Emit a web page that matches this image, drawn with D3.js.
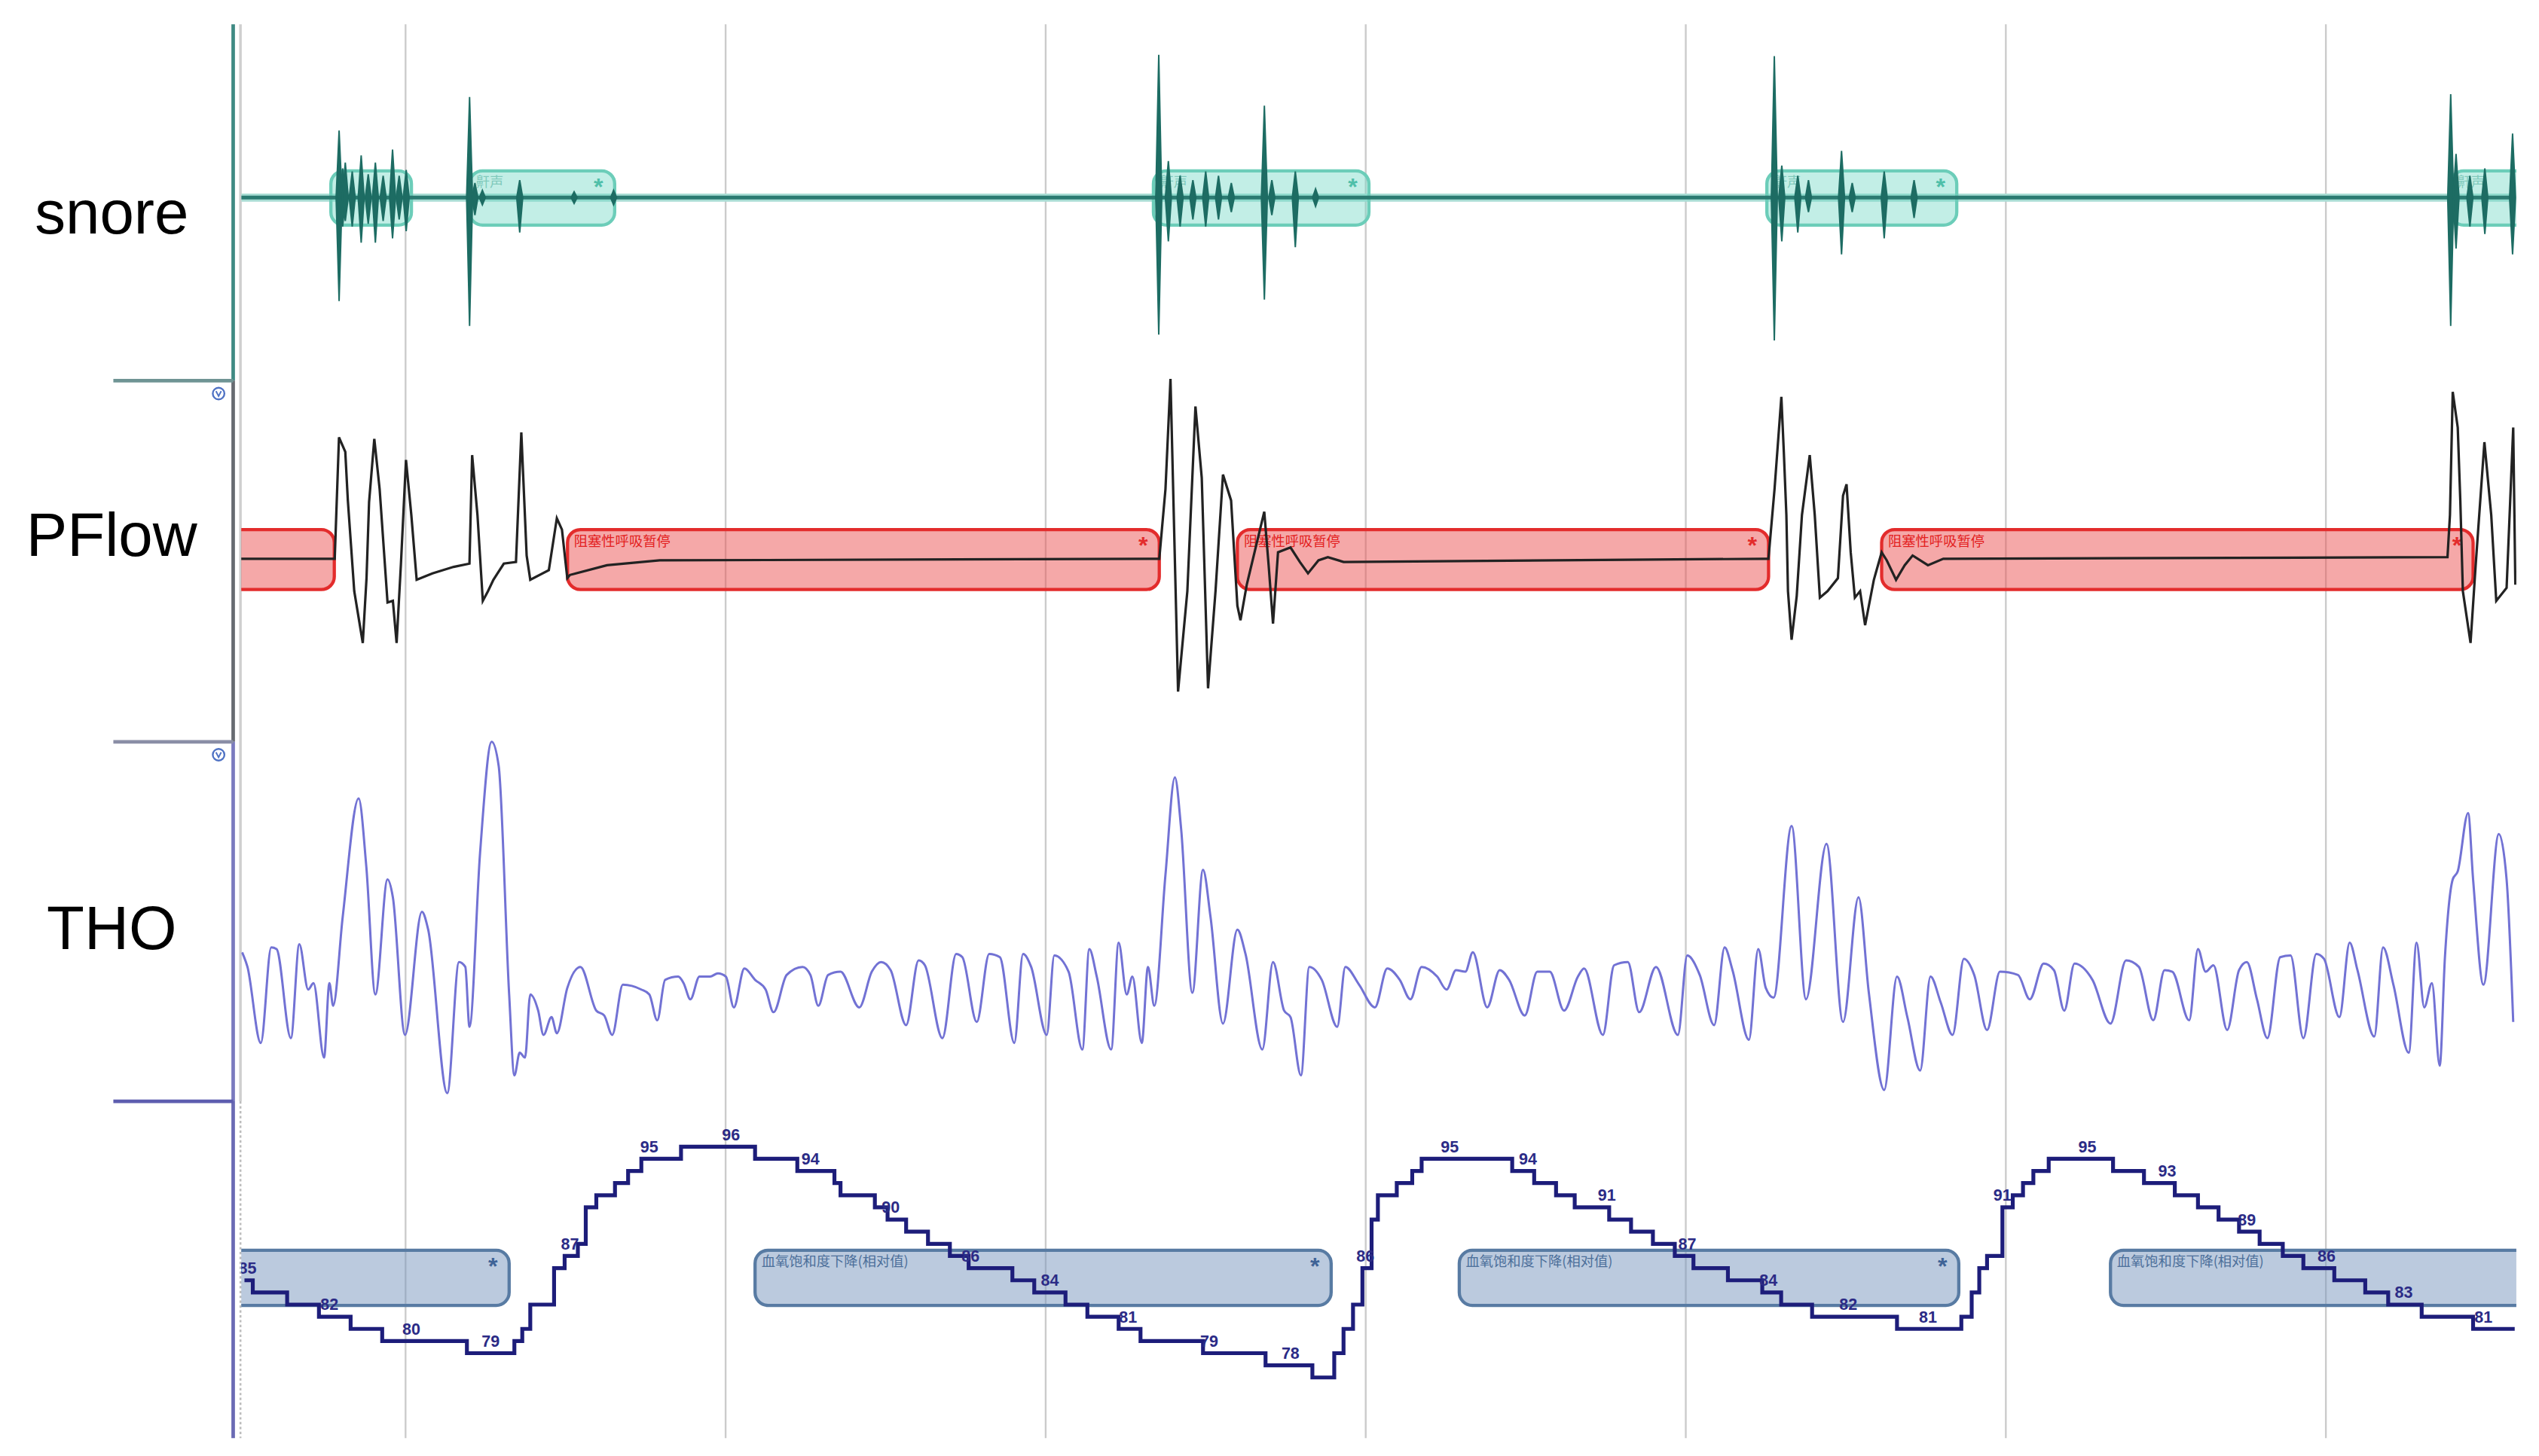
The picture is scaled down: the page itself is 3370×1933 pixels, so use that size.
<!DOCTYPE html>
<meta charset="utf-8">
<title>snore / PFlow / THO / SpO2</title>
<style>
  body { margin: 0; background: #fff; }
  svg { display: block; }
  text { font-family: "Liberation Sans", Arial, sans-serif; }
</style>
<body>
<div id="chart"></div>
<script src="https://cdn.jsdelivr.net/npm/d3@7"></script>
<script>

// time is in seconds from the start of the window, grid every 30 s
var channelNames = ["snore", "PFlow", "THO"];
var gridTimes = [30, 60, 90, 120, 150, 180, 210];

// snore bursts: [time, upper amplitude, lower amplitude]
var snoreSpikes = [
  [23.77,0.46,-0.71],[24.1,0.2,-0.2],[24.35,0.24,-0.16],[25.0,0.18,-0.2],[25.84,0.29,-0.31],[26.5,0.16,-0.18],
  [27.17,0.24,-0.31],[27.9,0.15,-0.16],[28.78,0.33,-0.28],[29.4,0.15,-0.15],[30.06,0.19,-0.23],
  [36.0,0.69,-0.88],[36.5,0.1,-0.12],[37.2,0.05,-0.05],[40.7,0.12,-0.24],[45.8,0.04,-0.04],[49.5,0.05,-0.05],
  [100.6,0.98,-0.94],[101.5,0.25,-0.3],[102.6,0.15,-0.2],[103.8,0.12,-0.15],[105.0,0.18,-0.2],[106.2,0.15,-0.15],
  [107.4,0.1,-0.1],[110.5,0.63,-0.7],[111.2,0.12,-0.12],[113.4,0.18,-0.34],[115.3,0.06,-0.06],
  [158.3,0.97,-0.98],[159.0,0.22,-0.3],[160.5,0.15,-0.24],[161.5,0.12,-0.1],[164.6,0.32,-0.39],[165.6,0.1,-0.1],
  [168.6,0.18,-0.28],[171.4,0.12,-0.14],
  [221.7,0.71,-0.88],[222.2,0.3,-0.35],[223.5,0.15,-0.2],[224.9,0.2,-0.25],[227.5,0.44,-0.39]
];
// events: [start, end, starred, labelled]
var snoreEvents = [[23.0,30.55,0,0],[36.0,49.6,1,1],[100.1,120.3,1,1],[157.6,175.4,1,1],[221.7,232,0,1]];
var snoreText = "鼾声";

var pflowTrace = [
  [10,0],[23.36,0],[23.76,0.75],[24.35,0.66],[24.59,0.36],[25.19,-0.2],[25.99,-0.52],[26.34,-0.12],[26.58,0.35],
  [27.07,0.74],[27.57,0.43],[28.31,-0.27],[28.81,-0.26],[29.16,-0.52],[29.56,-0.04],[30.04,0.61],[30.54,0.27],
  [31.04,-0.13],[32.52,-0.09],[34.51,-0.05],[35.99,-0.03],[36.24,0.64],[36.74,0.27],[37.24,-0.26],[37.73,-0.2],
  [38.23,-0.13],[39.21,-0.03],[40.35,-0.02],[40.85,0.78],[41.35,0.02],[41.69,-0.13],[43.43,-0.07],[44.18,0.25],
  [44.66,0.18],[45.16,-0.12],[45.41,-0.1],[48.88,-0.04],[53.83,-0.01],[100.0,0],
  [100.65,0],[101.23,0.43],[101.7,1.11],[102.41,-0.82],[103.28,-0.2],[104.04,0.94],[104.63,0.5],[105.22,-0.8],
  [105.92,-0.2],[106.62,0.52],[107.38,0.36],[107.97,-0.29],[108.26,-0.38],[108.85,-0.16],[110.49,0.29],[110.9,-0.04],
  [111.31,-0.4],[111.78,0.04],[112.95,0.07],[113.83,-0.02],[114.59,-0.09],[115.57,-0.01],[116.45,0.01],[117.93,-0.02],
  [157.4,0],
  [157.75,0],[158.32,0.43],[158.96,1.0],[159.19,0.66],[159.43,0.27],[159.58,-0.2],[159.92,-0.5],[160.4,-0.23],
  [160.89,0.27],[161.62,0.64],[162.09,0.27],[162.57,-0.24],[163.29,-0.2],[164.26,-0.12],[164.74,0.39],[165.07,0.46],
  [165.46,0.04],[165.85,-0.24],[166.34,-0.2],[166.81,-0.41],[167.63,-0.13],[168.36,0.04],[168.84,-0.01],[169.71,-0.13],
  [170.52,-0.04],[171.26,0.02],[172.7,-0.04],[174.14,0],
  [221.4,0.01],[221.63,0.27],[221.89,1.03],[222.36,0.81],[222.6,0.36],[222.84,-0.2],[223.56,-0.52],[224.04,-0.04],
  [224.86,0.72],[225.5,0.27],[225.97,-0.26],[226.94,-0.18],[227.56,0.81],[227.76,-0.16]
];
var apneaEvents = [[10,23.32,0,0],[45.18,100.65,1,1],[107.97,157.76,1,1],[168.36,223.8,1,1]];
var apneaText = "阻塞性呼吸暂停";

var thoTrace = [
  [14.68,0.12],[15.18,0.03],[16.43,-0.44],[17.41,0.15],[17.91,0.14],[19.25,-0.41],[20.04,0.17],[20.87,-0.11],
  [21.37,-0.07],[22.36,-0.53],[22.86,-0.07],[23.21,-0.21],[24.11,0.34],[25.6,1.07],[26.32,0.65],[27.17,-0.14],
  [28.31,0.57],[28.81,0.46],[29.95,-0.39],[31.53,0.37],[32.12,0.26],[33.91,-0.75],[35.01,0.06],[35.6,0.03],
  [35.99,-0.34],[36.98,0.73],[38.07,1.42],[38.73,1.27],[39.71,-0.14],[40.2,-0.64],[40.7,-0.5],[41.2,-0.53],
  [41.69,-0.14],[42.43,-0.24],[42.93,-0.39],[43.68,-0.28],[44.18,-0.38],[45.16,-0.1],[46.39,0.03],[47.88,-0.24],
  [48.62,-0.27],[49.37,-0.39],[50.37,-0.08],[52.1,-0.11],[52.85,-0.14],[53.59,-0.3],[54.33,-0.05],[55.56,-0.03],
  [56.06,-0.07],[56.7,-0.17],[57.55,-0.03],[58.54,-0.03],[59.28,-0.01],[60.03,-0.03],[60.77,-0.22],[61.76,0.02],
  [62.76,-0.05],[63.75,-0.11],[64.49,-0.25],[65.72,-0.02],[67.21,0.03],[67.95,-0.02],[68.69,-0.21],
  [69.61,-0.02],[70.77,0],[72.53,-0.22],[73.7,0],[74.58,0.06],[75.47,0.01],[76.92,-0.33],[78.09,0.07],[78.68,0.04],
  [80.32,-0.41],[81.61,0.11],[82.19,0.09],[83.54,-0.31],[84.71,0.11],[85.71,0.09],[87.06,-0.44],[87.88,0.11],
  [88.64,0.03],[90.1,-0.39],[90.81,0.1],[92.15,0],[93.44,-0.48],[94.09,0.14],[94.79,-0.03],[96.14,-0.48],
  [96.84,0.18],[97.6,-0.14],[98.13,-0.03],[99.01,-0.44],[99.59,0.03],[100.18,-0.21],[101.23,0.6],[102.11,1.2],
  [102.7,0.88],[103.75,-0.13],[104.75,0.63],[105.45,0.34],[106.62,-0.32],[107.97,0.26],[108.73,0.11],[110.31,-0.48],
  [111.31,0.06],[112.35,-0.24],[112.95,-0.28],[113.93,-0.64],[114.71,0.03],[115.88,-0.05],[117.33,-0.34],[118.09,0.03],
  [119.38,-0.08],[120.86,-0.22],[122.02,0.02],[123.19,-0.05],[124.19,-0.17],[125.24,0.03],[126.7,-0.03],[127.58,-0.11],
  [128.46,0.01],[129.34,0],[130.04,0.12],[131.39,-0.22],[132.56,0.01],[133.44,-0.05],[134.91,-0.27],[136.08,0],
  [137.25,0],[138.59,-0.24],[139.89,-0.03],[140.47,0.02],[142.23,-0.39],[143.28,0.04],[144.57,0.06],[145.63,-0.25],
  [147.21,0.03],[149.26,-0.39],[150.14,0.1],[151.31,-0.02],[152.66,-0.33],[153.64,0.15],
  [154.38,0.01],[155.92,-0.42],[156.79,0.14],[157.5,-0.1],[158.23,-0.16],[159.92,0.9],[161.27,-0.17],[163.19,0.79],
  [164.74,-0.31],[166.19,0.46],[167.16,-0.13],[168.6,-0.73],[169.8,-0.03],[170.77,-0.28],[171.97,-0.61],[172.94,-0.03],
  [173.9,-0.19],[175.01,-0.39],[176.07,0.08],[177.04,-0.02],[178.24,-0.36],[179.45,0],[181.14,-0.02],[182.25,-0.17],
  [183.55,0.05],[184.51,0.01],[185.48,-0.24],[186.44,0.05],[188.12,-0.05],[189.81,-0.32],[191.27,0.07],[192.47,0.03],
  [193.82,-0.3],[194.88,0.01],[195.61,0],[197.19,-0.3],[198.01,0.14],[198.73,0],[199.46,0.04],[200.75,-0.36],
  [201.86,0.01],[202.59,0.06],[203.54,-0.17],[204.52,-0.41],[205.72,0.09],[206.69,0.1],[207.89,-0.41],[209.1,0.11],
  [209.82,0.08],[211.27,-0.28],[212.23,0.18],[212.96,0.01],[214.54,-0.4],[215.36,0.15],[216.33,-0.08],[217.77,-0.5],
  [218.5,0.18],[219.22,-0.22],[219.94,-0.07],[220.67,-0.58],[221.16,0.09],[221.89,0.57],[222.36,0.62],[223.33,0.98],
  [223.8,0.57],[224.77,-0.08],[226.21,0.85],[226.94,0.57],[227.56,-0.31]
];

// SpO2 (%) as steps: [time the value starts, value]
var spo2Steps = [
  [14.9,85],[15.68,84],[18.9,83],[21.88,82],[24.85,81],[27.81,80],[35.75,79],[40.2,80],[40.94,81],[41.69,83],
  [43.92,86],[44.91,87],[46.15,88],[46.89,91],[47.88,92],[49.63,93],[50.86,94],[52.1,95],[55.82,96],[62.76,95],
  [66.72,94],[70.2,93],[70.77,92],[73.99,91],[75.18,90],[76.92,89],[78.97,88],[81.02,87],[82.78,86],[86.88,85],
  [88.93,84],[91.86,83],[93.91,82],[96.84,81],[98.89,80],[104.75,79],[110.61,78],[115.0,77],[117.05,79],[117.92,81],
  [118.81,83],[119.69,86],[120.55,90],[121.14,92],[122.91,93],[124.36,94],[125.24,95],[133.73,94],[135.79,93],
  [137.84,92],[139.59,91],[142.82,90],[144.87,89],[146.92,88],[148.97,87],[150.72,86],[153.95,85],[157.17,84],
  [158.94,83],[161.84,82],[169.8,81],[175.83,82],[176.8,84],[177.51,86],[178.24,87],[179.68,91],[180.65,92],
  [181.61,93],[182.58,94],[184.02,95],[190.05,94],[192.95,93],[195.84,92],[198.01,91],[199.94,90],[201.86,89],
  [203.79,88],[205.96,87],[207.89,86],[210.79,85],[213.69,84],[215.84,83],[218.98,82],[223.8,81],[227.7,81]
];
var spo2Labels = [
  [15.18,85],[22.86,82],[30.54,80],[37.98,79],[45.41,87],[52.84,95],[60.51,96],[67.95,94],[75.47,90],[82.96,86],
  [90.4,84],[97.72,81],[105.33,79],[112.95,78],[119.97,86],[127.88,95],[135.2,94],[142.6,91],[150.14,87],[157.75,84],
  [165.23,82],[172.7,81],[179.68,91],[187.64,95],[195.12,93],[202.59,89],[210.06,86],[217.3,83],[224.77,81]
];
var desatEvents = [[10,39.71,1,0],[62.76,116.76,1,1],[128.77,175.59,1,1],[189.81,232,0,1]];
var desatText = "血氧饱和度下降(相对值)";

// ---- layout ----
var svg = d3.select("#chart")
  .append("svg")
    .attr("width", 3370)
    .attr("height", 1933)
    .attr("viewBox", "0 0 1568 899")
    .attr("preserveAspectRatio", "none");

var x = d3.scaleLinear().domain([14.6, 227.7]).range([149, 1553]);
var ySnore = d3.scaleLinear().domain([-1, 1]).range([212, 32]);
var yFlow = d3.scaleLinear().domain([-1, 1]).range([445, 245]);
var yTho = d3.scaleLinear().domain([-1, 1]).range([700, 500]);
var ySpo2 = d3.scaleLinear().domain([76, 96]).range([858, 708]);

svg.append("defs").append("clipPath")
    .attr("id", "plot")
  .append("rect")
    .attr("x", 149).attr("y", 0)
    .attr("width", 1405).attr("height", 899);

// grid
svg.selectAll("line.grid")
  .data(gridTimes)
  .enter()
  .append("line")
    .attr("class", "grid")
    .attr("x1", function(d) { return x(d); })
    .attr("x2", function(d) { return x(d); })
    .attr("y1", 15).attr("y2", 888)
    .style("stroke", "#cbcbcb")
    .style("stroke-width", 1.1);

// left frame, one colour per channel
var frame = [
  {y0: 15, y1: 235, c: "#3f8a83"},
  {y0: 235, y1: 458, c: "#666a70"},
  {y0: 458, y1: 680, c: "#7a7abf"},
  {y0: 680, y1: 888, c: "#6a6ab4"}
];
svg.selectAll("line.frame")
  .data(frame)
  .enter()
  .append("line")
    .attr("x1", 144).attr("x2", 144)
    .attr("y1", function(d) { return d.y0; })
    .attr("y2", function(d) { return d.y1; })
    .style("stroke", function(d) { return d.c; })
    .style("stroke-width", 2.2);
svg.append("line")
    .attr("x1", 148.5).attr("x2", 148.5).attr("y1", 15).attr("y2", 680)
    .style("stroke", "#cfcfcf").style("stroke-width", 1.6);
svg.append("line")
    .attr("x1", 148.5).attr("x2", 148.5).attr("y1", 680).attr("y2", 888)
    .style("stroke", "#bdbdbd").style("stroke-width", 1.2)
    .style("stroke-dasharray", "1.5,1.5");

var seps = [{y: 235, c: "#6f9494"}, {y: 458, c: "#8a8ea6"}, {y: 680, c: "#5d5daf"}];
svg.selectAll("line.sep")
  .data(seps)
  .enter()
  .append("line")
    .attr("x1", 70).attr("x2", 144)
    .attr("y1", function(d) { return d.y; })
    .attr("y2", function(d) { return d.y; })
    .style("stroke", function(d) { return d.c; })
    .style("stroke-width", 2.2);

[243, 466].forEach(function(cy) {
  svg.append("circle").attr("cx", 135).attr("cy", cy).attr("r", 3.6)
    .style("fill", "#fff").style("stroke", "#4f72c4").style("stroke-width", 1.1);
  svg.append("path").attr("d", "M133.4," + (cy - 1.5) + "L135," + (cy + 1.6) + "L136.6," + (cy - 1.5))
    .style("fill", "none").style("stroke", "#4f72c4").style("stroke-width", 0.9);
});

svg.selectAll("text.chan")
  .data(channelNames)
  .enter()
  .append("text")
    .attr("x", 69)
    .attr("y", function(d, i) { return [144, 343, 586][i]; })
    .attr("text-anchor", "middle")
    .style("font-size", "38px")
    .style("fill", "#000")
    .text(function(d) { return d; });

var plot = svg.append("g").attr("clip-path", "url(#plot)");

function boxes(data, top, h, fill, stroke, starColor, text, textColor) {
  var g = plot.append("g");
  g.selectAll("rect")
    .data(data)
    .enter()
    .append("rect")
      .attr("x", function(d) { return x(d[0]); })
      .attr("y", top)
      .attr("width", function(d) { return x(d[1]) - x(d[0]); })
      .attr("height", h)
      .attr("rx", 8)
      .style("fill", fill)
      .style("stroke", stroke)
      .style("stroke-width", 2);
  g.selectAll("text.star")
    .data(data.filter(function(d) { return d[2]; }))
    .enter()
    .append("text")
      .attr("x", function(d) { return x(d[1]) - 10; })
      .attr("y", top + 15)
      .attr("text-anchor", "middle")
      .style("font-size", "15px")
      .style("font-weight", "bold")
      .style("fill", starColor)
      .text("*");
  g.selectAll("text.lab")
    .data(data.filter(function(d) { return d[3]; }))
    .enter()
    .append("text")
      .attr("x", function(d) { return x(d[0]) + 4; })
      .attr("y", top + 10)
      .style("font-family", "'Noto Sans CJK SC', sans-serif")
      .style("font-size", "8.5px")
      .style("fill", textColor)
      .text(text);
  return g;
}

// snore
plot.append("line")
    .attr("x1", x(14.6)).attr("x2", x(227.7))
    .attr("y1", ySnore(0)).attr("y2", ySnore(0))
    .style("stroke", "#a9ddd4").style("stroke-width", 5);
boxes(snoreEvents, 105.5, 33.5, "rgba(110,215,195,0.42)", "#6ccdb9", "#4fbfa9", snoreText, "rgba(70,170,150,0.55)");
plot.append("line")
    .attr("x1", x(14.6)).attr("x2", x(227.7))
    .attr("y1", ySnore(0)).attr("y2", ySnore(0))
    .style("stroke", "#2b7a71").style("stroke-width", 2.3);
plot.selectAll("path.spike")
  .data(snoreSpikes)
  .enter()
  .append("path")
    .attr("d", function(d) {
      var w = 0.28;
      return "M" + x(d[0] - w) + "," + ySnore(0) +
             "L" + x(d[0]) + "," + ySnore(d[1]) +
             "L" + x(d[0] + w) + "," + ySnore(0) +
             "L" + x(d[0]) + "," + ySnore(d[2]) + "Z";
    })
    .style("fill", "#1d6c63")
    .style("stroke", "#1d6c63")
    .style("stroke-width", 0.9);

// PFlow
boxes(apneaEvents, 327, 37, "rgba(236,82,82,0.5)", "#e32c2c", "#e32c2c", apneaText, "#e32020");
plot.append("path")
    .datum(pflowTrace)
    .attr("d", d3.line()
      .x(function(d) { return x(d[0]); })
      .y(function(d) { return yFlow(d[1]); }))
    .style("fill", "none")
    .style("stroke", "#222")
    .style("stroke-width", 1.5);

// THO
plot.append("path")
    .datum(thoTrace)
    .attr("d", d3.line()
      .curve(d3.curveMonotoneX)
      .x(function(d) { return x(d[0]); })
      .y(function(d) { return yTho(d[1]); }))
    .style("fill", "none")
    .style("stroke", "#7272d4")
    .style("stroke-width", 1.4);

// SpO2
boxes(desatEvents, 772, 34, "rgba(120,150,190,0.5)", "#587ba3", "#3f6396", desatText, "#4c6f9a");
plot.append("path")
    .datum(spo2Steps)
    .attr("d", d3.line()
      .curve(d3.curveStepAfter)
      .x(function(d) { return x(d[0]); })
      .y(function(d) { return ySpo2(d[1]); }))
    .style("fill", "none")
    .style("stroke", "#1d1d7a")
    .style("stroke-width", 2.4);
plot.selectAll("text.spo2")
  .data(spo2Labels)
  .enter()
  .append("text")
    .attr("x", function(d) { return x(d[0]); })
    .attr("y", function(d) { return ySpo2(d[1]) - 4; })
    .attr("text-anchor", "middle")
    .style("font-family", "'Liberation Sans Narrow', 'Liberation Sans', sans-serif")
    .style("font-size", "10px")
    .style("font-weight", "bold")
    .style("fill", "#2b2b86")
    .text(function(d) { return d[1]; });

</script>
</body>
